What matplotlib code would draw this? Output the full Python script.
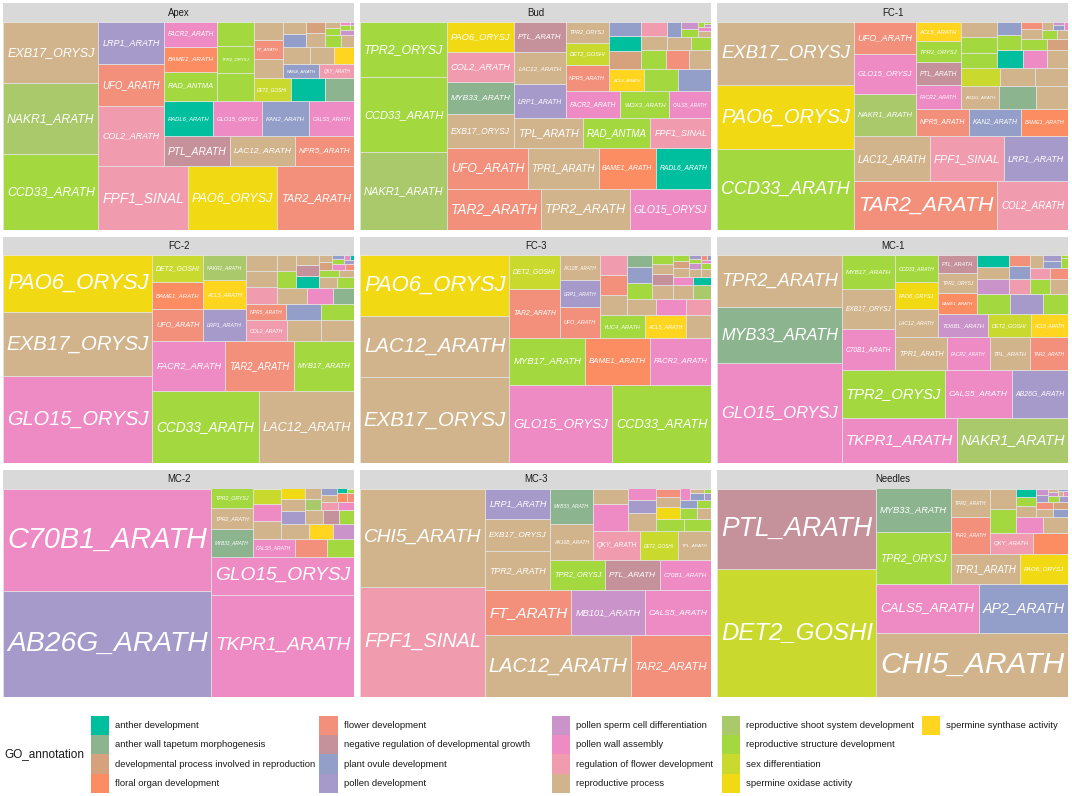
import matplotlib
matplotlib.use("Agg")
import matplotlib.pyplot as plt
from matplotlib.patches import Rectangle

plt.rcParams['font.family'] = ['Liberation Sans', 'DejaVu Sans']

# ---------------- legend categories ----------------
go_terms = ["anther development", "anther wall tapetum morphogenesis",
            "developmental process involved in reproduction", "floral organ development",
            "flower development", "negative regulation of developmental growth",
            "plant ovule development", "pollen development",
            "pollen sperm cell differentiation", "pollen wall assembly",
            "regulation of flower development", "reproductive process",
            "reproductive shoot system development", "reproductive structure development",
            "sex differentiation", "spermine oxidase activity", "spermine synthase activity"]
go_codes = ["AD", "AW", "DP", "FO", "FD", "NR", "OV", "PD", "PS", "PW", "RF", "RP",
            "SS", "RS", "SD", "SO", "SY"]
go_colors = ["#00BF9F", "#8BB48F", "#D6A27E", "#FC8D62", "#F3907B", "#C5929C",
             "#939FC8", "#A69ACB", "#CA93C9", "#EE8AC4", "#F09BAE", "#D1B48C",
             "#A9C96A", "#A3D93E", "#C9D92E", "#F1D913", "#FFD520"]

panel_names = ["Apex", "Bud", "FC-1", "FC-2", "FC-3", "MC-1", "MC-2", "MC-3", "Needles"]

# ---------------- Apex ----------------
apex_genes = ["CCD33_ARATH", "NAKR1_ARATH", "EXB17_ORYSJ", "FPF1_SINAL", "PAO6_ORYSJ", "TAR2_ARATH",
              "COL2_ARATH", "UFO_ARATH", "LRP1_ARATH", "PTL_ARATH", "LAC12_ARATH", "NPR5_ARATH",
              "RADL6_ARATH", "GLO15_ORYSJ", "KAN2_ARATH", "CALS5_ARATH", "RAD_ANTMA", "BAME1_ARATH",
              "FACR2_ARATH", "", "TPR2_ORYSJ", "", "DET2_GOSHI", "", "", "", "FT_ARATH", "",
              "KAN4_ARATH", "QKY_ARATH"]
apex_go = ["RS", "SS", "RP", "RF", "SO", "FD", "RF", "FD", "PD", "NR", "RP", "FD", "AD", "PW", "OV",
           "PW", "RS", "FO", "PW", "RS", "RS", "RS", "SD", "AD", "AW", "RP", "FD", "RP", "OV", "RF"]
apex_size = [64695, 60705, 52725, 51456, 51264, 44544, 35100, 24800, 24600, 17820, 17730, 15930,
             15540, 15435, 14700, 14385, 14256, 12150, 12100, 9180, 8640, 7884, 7616, 7004, 5916,
             5200, 5100, 4700, 4650, 4450]
apex_minor_go = ["RP", "RP", "SY", "OV", "RP", "RP", "DP", "RS", "RP", "RS", "RP", "PS", "RS", "PW", "RS", "PS"]
apex_minor_size = [4200, 3700, 3200, 2800, 2500, 2300, 1900, 1700, 1500, 1000, 800, 600, 400, 300, 200, 125]

# ---------------- Bud ----------------
bud_genes = ["NAKR1_ARATH", "CCD33_ARATH", "TPR2_ORYSJ", "TAR2_ARATH", "TPR2_ARATH", "GLO15_ORYSJ",
             "UFO_ARATH", "TPR1_ARATH", "BAME1_ARATH", "RADL6_ARATH", "EXB17_ORYSJ", "MYB33_ARATH",
             "COL2_ARATH", "PAO6_ORYSJ", "TPL_ARATH", "RAD_ANTMA", "FPF1_SINAL", "LRP1_ARATH",
             "LAC12_ARATH", "PTL_ARATH", "FACR2_ARATH", "WOX3_ARATH", "CALS5_ARATH", "NPR5_ARATH",
             "DET2_GOSHI", "TPR2_ORYSJ", "ACL5_ARATH", "", ""]
bud_go = ["SS", "RS", "RS", "FD", "RP", "PW", "FD", "RP", "FO", "AD", "RP", "AW", "RF", "SO", "RP",
          "RS", "RF", "PD", "RP", "NR", "PW", "RS", "PW", "FD", "SD", "RP", "SY", "RS", "OV"]
bud_size = [60580, 58500, 43420, 34686, 32718, 30012, 29900, 26288, 21328, 20460, 20400, 19300,
            18300, 18200, 18040, 17776, 16016, 15708, 14784, 14168, 13366, 12054, 10250, 10140,
            8710, 8190, 7208, 6800, 6732]
bud_minor_go = ["DP", "AD", "OV", "RS", "FD", "RP", "RP", "RF", "RP", "RS", "OV", "RS", "PS", "RP", "PW", "RS", "PS", "RS"]
bud_minor_size = [5096, 4410, 4214, 4200, 3800, 3700, 3400, 3200, 2800, 2400, 2000, 1200, 1100, 700, 500, 300, 200, 147]

# ---------------- FC-1 ----------------
fc1_genes = ["CCD33_ARATH", "PAO6_ORYSJ", "EXB17_ORYSJ", "TAR2_ARATH", "COL2_ARATH", "LAC12_ARATH",
             "FPF1_SINAL", "LRP1_ARATH", "NAKR1_ARATH", "GLO15_ORYSJ", "UFO_ARATH", "NPR5_ARATH",
             "KAN2_ARATH", "BAME1_ARATH", "FACR2_ARATH", "PTL_ARATH", "TPR2_ORYSJ", "ACL5_ARATH",
             "AB11G_ARATH", "", ""]
fc1_go = ["RS", "SO", "RP", "FD", "RF", "RP", "RF", "PD", "SS", "PW", "FD", "FD", "OV", "FO", "PW",
          "NR", "RS", "SY", "RP", "AW", "RP"]
fc1_size = [98736, 78300, 78000, 62930, 31000, 30900, 30000, 25900, 23936, 21879, 18326, 13114,
            13031, 11786, 9450, 9180, 8640, 7830, 7705, 7370, 6499]
fc1_minor_go = ["SD", "RP", "RP", "RS", "RS", "RP", "AD", "PW", "RP", "RS", "OV", "RS", "DP", "RP",
                "FD", "RS", "RP", "RP", "OV", "PS", "PW"]
fc1_minor_size = [6300, 5500, 5400, 5100, 5000, 4900, 4300, 4000, 3600, 3200, 2900, 2600, 2200, 1800,
                  1400, 1100, 900, 800, 500, 345, 300]

# ---------------- FC-2 ----------------
fc2_genes = ["GLO15_ORYSJ", "EXB17_ORYSJ", "PAO6_ORYSJ", "CCD33_ARATH", "LAC12_ARATH", "FACR2_ARATH",
             "TAR2_ARATH", "MYB17_ARATH", "UFO_ARATH", "BAME1_ARATH", "DET2_GOSHI", "LRP1_ARATH",
             "ACL5_ARATH", "NAKR1_ARATH", "COL2_ARATH", "", "", "NPR5_ARATH", "", ""]
fc2_go = ["PW", "RP", "SO", "RS", "RP", "PW", "FD", "RS", "FD", "FO", "SD", "PD", "SY", "SS", "RF",
          "RP", "RP", "FD", "OV", "RS"]
fc2_size = [116667, 85824, 75990, 68688, 61992, 32700, 30750, 27300, 14535, 12546, 12240, 12065,
            11049, 9525, 7626, 6324, 6200, 6000, 5250, 5000]
fc2_minor_go = ["RF", "RP", "RP", "RP", "PW", "AW", "RS", "RP", "AD", "NR", "RP", "RP", "RS", "RS",
                "RP", "DP", "RP", "PW", "FD", "RS", "OV", "PD", "PW", "AD"]
fc2_minor_size = [4750, 4500, 4300, 4300, 3700, 3000, 2900, 2700, 2400, 2200, 2000, 1800, 1700, 1300,
                  1000, 900, 800, 700, 500, 500, 400, 300, 275, 200]

# ---------------- FC-3 ----------------
fc3_genes = ["EXB17_ORYSJ", "LAC12_ARATH", "PAO6_ORYSJ", "GLO15_ORYSJ", "CCD33_ARATH", "MYB17_ARATH",
             "BAME1_ARATH", "FACR2_ARATH", "TAR2_ARATH", "DET2_GOSHI", "UFO_ARATH", "LRP1_ARATH",
             "AK10B_ARATH", "YUC4_ARATH", "ACL5_ARATH", "", "", "", "", "", "", ""]
fc3_go = ["RP", "RP", "SO", "PW", "RS", "RS", "FO", "PW", "FD", "SD", "FD", "PD", "RP", "RS", "SY",
          "RP", "RP", "FD", "RF", "RP", "PW", "RF"]
fc3_size = [115326, 81801, 81354, 72380, 69795, 31866, 27495, 25944, 22197, 15100, 11040, 9600,
            9000, 8978, 8375, 5025, 4960, 4800, 4640, 4450, 4400, 3850]
fc3_minor_go = ["RS", "OV", "AW", "RP", "RP", "SS", "NR", "RP", "RS", "PW", "AD", "RP", "DP", "RS",
                "RP", "RP", "PS", "RS", "RS", "PD", "PW", "FD", "OV"]
fc3_minor_size = [3700, 3600, 2700, 2600, 2400, 2300, 2000, 1800, 1600, 1500, 1300, 1200, 1000, 900,
                  800, 700, 700, 600, 470, 400, 300, 250, 200]

# ---------------- MC-1 ----------------
mc1_genes = ["GLO15_ORYSJ", "MYB33_ARATH", "TPR2_ARATH", "TKPR1_ARATH", "NAKR1_ARATH", "TPR2_ORYSJ",
             "CALS5_ARATH", "AB26G_ARATH", "C70B1_ARATH", "EXB17_ORYSJ", "MYB17_ARATH", "TPR1_ARATH",
             "FACR2_ARATH", "TPL_ARATH", "TAR2_ARATH", "LAC12_ARATH", "PAO6_ORYSJ", "CCD33_ARATH",
             "TO6BL_ARATH", "DET2_GOSHI", "ACL5_ARATH", "BAME1_ARATH", "TPR2_ORYSJ", "PTL_ARATH",
             "", "", ""]
mc1_go = ["PW", "AW", "RP", "PW", "SS", "RS", "PW", "PD", "PW", "RP", "RS", "RP", "PW", "RP", "FD",
          "RP", "SO", "RS", "PS", "SD", "SY", "FO", "RP", "NR", "RS", "PD", "RS"]
mc1_size = [111900, 62664, 57815, 46784, 45560, 44496, 28800, 24480, 19360, 19200, 16320, 15072,
            12288, 11712, 11100, 11000, 10400, 10350, 10300, 8763, 7728, 7371, 7254, 6201, 6150,
            6111, 4725]
mc1_minor_go = ["PS", "RP", "AD", "RF", "RS", "RP", "OV", "FD", "RF", "FD", "RP", "OV", "PD", "RS", "RS"]
mc1_minor_size = [4100, 3400, 3300, 2900, 2600, 2500, 2300, 2100, 1900, 1700, 1500, 1200, 900, 700, 180]

# ---------------- MC-2 ----------------
mc2_genes = ["AB26G_ARATH", "C70B1_ARATH", "TKPR1_ARATH", "GLO15_ORYSJ", "MYB33_ARATH", "TPR2_ARATH",
             "TPR2_ORYSJ", "CALS5_ARATH", "", "", "", "", "", "", "", ""]
mc2_go = ["PD", "PW", "PW", "PW", "AW", "RP", "RS", "PW", "FD", "RS", "RP", "PW", "SD", "RP", "SY", "PS"]
mc2_size = [196245, 191884, 130845, 48477, 10292, 7936, 7192, 7040, 5225, 4560, 4500, 4300, 4042,
            3690, 3240, 2925]
mc2_minor_go = ["PD", "RP", "SO", "RP", "NR", "RS", "SS", "RP", "RF", "PW", "RP", "OV", "FO", "FD", "AD", "RS"]
mc2_minor_size = [2700, 2500, 2300, 2200, 1900, 1800, 1600, 1500, 1300, 1200, 1000, 900, 800, 600, 400, 295]

# ---------------- MC-3 ----------------
mc3_genes = ["FPF1_SINAL", "CHI5_ARATH", "LAC12_ARATH", "TAR2_ARATH", "FT_ARATH", "MB101_ARATH",
             "CALS5_ARATH", "TPR2_ARATH", "EXB17_ORYSJ", "LRP1_ARATH", "TPR2_ORYSJ", "PTL_ARATH",
             "C70B1_ARATH", "AK10B_ARATH", "MYB33_ARATH", "QKY_ARATH", "DET2_GOSHI", "TPL_ARATH",
             "", "", "", "", ""]
mc3_go = ["RF", "RP", "RP", "FD", "FD", "PS", "PW", "RP", "RP", "PD", "RS", "NR", "PW", "RP", "AW",
          "RF", "SD", "RP", "PW", "RP", "RP", "PD", "PW"]
mc3_size = [123000, 110625, 79971, 43920, 34830, 29565, 27000, 22815, 19110, 17550, 14850, 14840,
            13900, 13800, 13335, 12441, 9831, 8613, 8400, 5040, 4730, 3268, 3010]
mc3_minor_go = ["RS", "RS", "SO", "RP", "FD", "RS", "RP", "OV", "RS", "PW", "OV", "RP", "PD", "RS"]
mc3_minor_size = [3000, 2900, 2600, 2000, 1900, 1700, 1400, 1300, 1100, 1000, 800, 600, 400, 292]

# ---------------- Needles ----------------
ndl_genes = ["DET2_GOSHI", "PTL_ARATH", "CHI5_ARATH", "CALS5_ARATH", "AP2_ARATH", "TPR2_ORYSJ",
             "MYB33_ARATH", "TPR1_ARATH", "PAO6_ORYSJ", "TAR2_ARATH", "TPR2_ARATH", "QKY_ARATH",
             "", "", "", "", ""]
ndl_go = ["SD", "NR", "RP", "PW", "OV", "RS", "AW", "RP", "SO", "FD", "RP", "RF", "FO", "RS", "RP", "PW", "RP"]
ndl_size = [182691, 114480, 109825, 44370, 39005, 35011, 28990, 19136, 13248, 12980, 10030, 8127,
            6615, 5390, 4774, 3760, 3619]
ndl_minor_go = ["RP", "RS", "AD", "RP", "OV", "FD", "DP", "PD", "PS", "RS", "PD", "PS", "RP", "RP", "PW", "OV"]
ndl_minor_size = [1900, 1600, 1500, 1300, 1100, 1000, 900, 800, 700, 600, 500, 400, 300, 295, 250, 200]

panel_data = [
    (apex_genes, apex_go, apex_size, apex_minor_go, apex_minor_size),
    (bud_genes, bud_go, bud_size, bud_minor_go, bud_minor_size),
    (fc1_genes, fc1_go, fc1_size, fc1_minor_go, fc1_minor_size),
    (fc2_genes, fc2_go, fc2_size, fc2_minor_go, fc2_minor_size),
    (fc3_genes, fc3_go, fc3_size, fc3_minor_go, fc3_minor_size),
    (mc1_genes, mc1_go, mc1_size, mc1_minor_go, mc1_minor_size),
    (mc2_genes, mc2_go, mc2_size, mc2_minor_go, mc2_minor_size),
    (mc3_genes, mc3_go, mc3_size, mc3_minor_go, mc3_minor_size),
    (ndl_genes, ndl_go, ndl_size, ndl_minor_go, ndl_minor_size),
]


# ---------------- squarified layout (unit square, bottom-left start) ----------------
def worst(row, length):
    s = sum(row)
    return max(max(length * length * r / (s * s), (s * s) / (length * length * r)) for r in row)


def squarify(values):
    total = float(sum(values))
    vals = [v / total for v in values]
    x, y, w, h = 0.0, 0.0, 1.0, 1.0
    rects = []
    while vals:
        vertical = w >= h - 1e-12
        length = h if vertical else w
        row = [vals[0]]
        i = 1
        while i < len(vals) and worst(row + [vals[i]], length) <= worst(row, length):
            row.append(vals[i])
            i += 1
        vals = vals[i:]
        s = sum(row)
        if vertical:
            cw = s / h if h > 0 else 0
            cy = y
            for r in row:
                rh = r / cw if cw > 0 else 0
                rects.append((x, cy, cw, rh))
                cy += rh
            x += cw
            w -= cw
        else:
            rh = s / w if w > 0 else 0
            cx = x
            for r in row:
                rw = r / rh if rh > 0 else 0
                rects.append((cx, y, rw, rh))
                cx += rw
            y += rh
            h -= rh
    return rects


# ---------------- figure ----------------
W, H = 1072, 796
fig = plt.figure(figsize=(W / 100, H / 100), dpi=100)
renderer = fig.canvas.get_renderer()

col_left = [3.3, 360.3, 717.3]
strip_top = [3.3, 236.7, 470.0]
panel_w = 351.0
strip_h = 18.5
panel_h = 208.0
pad_px = 3.8
color_of = dict(zip(go_codes, go_colors))


def px_axes(left, top, width, height):
    return fig.add_axes([left / W, 1 - (top + height) / H, width / W, height / H])


for k, name in enumerate(panel_names):
    r, c = divmod(k, 3)
    left = col_left[c]
    st = strip_top[r]
    # strip
    sax = px_axes(left, st, panel_w, strip_h)
    sax.set_xlim(0, 1)
    sax.set_ylim(0, 1)
    sax.axis("off")
    sax.add_patch(Rectangle((0, 0), 1, 1, facecolor="#D9D9D9", edgecolor="none"))
    sax.text(0.5, 0.5, name, ha="center", va="center", fontsize=6.9, color="#1A1A1A")

    genes, gos, sizes, mgo, msize = panel_data[k]
    labels = list(genes) + [""] * len(msize)
    cats = list(gos) + list(mgo)
    vals = list(sizes) + list(msize)
    order = sorted(range(len(vals)), key=lambda i: -vals[i])
    labels = [labels[i] for i in order]
    cats = [cats[i] for i in order]
    vals = [vals[i] for i in order]
    rects = squarify(vals)

    ax = px_axes(left, st + strip_h, panel_w, panel_h)
    ax.set_xlim(0, 1)
    ax.set_ylim(0, 1)
    ax.axis("off")
    for (rx, ry, rw, rh), lab, cat in zip(rects, labels, cats):
        ax.add_patch(Rectangle((rx, ry), rw, rh, facecolor=color_of[cat],
                               edgecolor="#E4E4E4", linewidth=0.5))
        if lab:
            t = ax.text(rx + rw / 2, ry + rh / 2, lab, ha="center", va="center",
                        fontsize=10, color="white", fontstyle="italic")
            bb = t.get_window_extent(renderer)
            aw = rw * panel_w - 2 * pad_px
            ah = rh * panel_h - 2 * pad_px
            fs_w = 10 * aw / bb.width
            fs_h = ah / 0.95 / (100 / 72)
            fs = min(fs_w, fs_h)
            if fs < 2.5:
                t.remove()
            else:
                t.set_fontsize(fs)

# ---------------- legend ----------------
lax = fig.add_axes([0, 0, 1, 96 / H])
lax.set_xlim(0, W)
lax.set_ylim(H, H - 96)
lax.axis("off")
lax.text(4, 754.3, "GO_annotation", ha="left", va="center", fontsize=8.5, color="#1A1A1A")
key_left = [90.7, 319.3, 552.0, 721.7, 921.7]
key_w, key_h = 18.3, 19.33
row_top0 = 715.7
for i, (term, col) in enumerate(zip(go_terms, go_colors)):
    cc, rr = divmod(i, 4)
    kx = key_left[cc]
    ky = row_top0 + rr * key_h
    lax.add_patch(Rectangle((kx, ky), key_w, key_h, facecolor=col, edgecolor="none"))
    lax.text(kx + 24.5, ky + key_h / 2, term, ha="left", va="center", fontsize=6.8, color="#1A1A1A")

fig.savefig("out.png", dpi=100)
